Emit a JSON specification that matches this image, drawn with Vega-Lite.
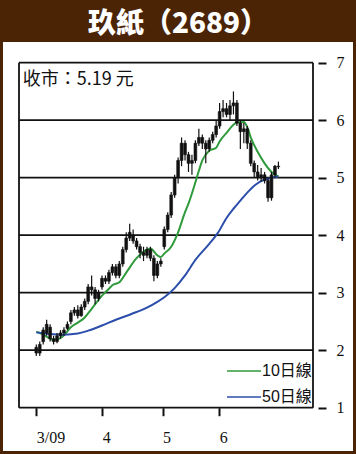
{
  "$schema": "https://vega.github.io/schema/vega-lite/v6.json",
  "width": 350,
  "height": 409,
  "autosize": {"type": "none"},
  "padding": {"left": 3, "right": 3, "top": 42, "bottom": 3},
  "background": "#4b2406",
  "title": {"text": "玖紙（2689）", "color": "white", "font": "Noto Sans CJK TC", "fontSize": 28, "fontWeight": 900, "anchor": "middle", "frame": "group", "offset": 3},
  "config": {"view": {"fill": "white", "stroke": null}},
  "datasets": {
    "levels": [{"lv": 1}, {"lv": 2}, {"lv": 3}, {"lv": 4}, {"lv": 5}, {"lv": 6}, {"lv": 7}],
    "edges": [{"e": -5}, {"e": 80}],
    "note": [{"t": "收市：5.19 元"}],
    "ma": [
      {"d": 0, "s": "10日線", "v": 2.32}, {"d": 2, "s": "10日線", "v": 2.27}, {"d": 4, "s": "10日線", "v": 2.2}, {"d": 5, "s": "10日線", "v": 2.18},
      {"d": 7, "s": "10日線", "v": 2.21}, {"d": 8, "s": "10日線", "v": 2.26}, {"d": 10, "s": "10日線", "v": 2.4}, {"d": 12, "s": "10日線", "v": 2.48},
      {"d": 14, "s": "10日線", "v": 2.57}, {"d": 16, "s": "10日線", "v": 2.72}, {"d": 19, "s": "10日線", "v": 2.95}, {"d": 21, "s": "10日線", "v": 3.07},
      {"d": 22, "s": "10日線", "v": 3.13}, {"d": 24, "s": "10日線", "v": 3.18}, {"d": 26, "s": "10日線", "v": 3.35}, {"d": 29, "s": "10日線", "v": 3.6},
      {"d": 32, "s": "10日線", "v": 3.75}, {"d": 33, "s": "10日線", "v": 3.77}, {"d": 35, "s": "10日線", "v": 3.65}, {"d": 36, "s": "10日線", "v": 3.62},
      {"d": 37, "s": "10日線", "v": 3.68}, {"d": 39, "s": "10日線", "v": 3.8}, {"d": 41, "s": "10日線", "v": 4.05}, {"d": 43, "s": "10日線", "v": 4.4},
      {"d": 44, "s": "10日線", "v": 4.55}, {"d": 46, "s": "10日線", "v": 4.92}, {"d": 47, "s": "10日線", "v": 5.12}, {"d": 48, "s": "10日線", "v": 5.3},
      {"d": 50, "s": "10日線", "v": 5.47}, {"d": 52, "s": "10日線", "v": 5.52}, {"d": 53, "s": "10日線", "v": 5.63}, {"d": 55, "s": "10日線", "v": 5.78},
      {"d": 57, "s": "10日線", "v": 5.92}, {"d": 58, "s": "10日線", "v": 5.96}, {"d": 60, "s": "10日線", "v": 5.97}, {"d": 61, "s": "10日線", "v": 5.88},
      {"d": 62, "s": "10日線", "v": 5.7}, {"d": 64, "s": "10日線", "v": 5.45}, {"d": 66, "s": "10日線", "v": 5.25}, {"d": 68, "s": "10日線", "v": 5.1},
      {"d": 70, "s": "10日線", "v": 5.02},
      {"d": 0, "s": "50日線", "v": 2.31}, {"d": 4, "s": "50日線", "v": 2.28}, {"d": 8, "s": "50日線", "v": 2.27}, {"d": 12, "s": "50日線", "v": 2.29},
      {"d": 15, "s": "50日線", "v": 2.34}, {"d": 19, "s": "50日線", "v": 2.43}, {"d": 23, "s": "50日線", "v": 2.53}, {"d": 27.5, "s": "50日線", "v": 2.63},
      {"d": 32, "s": "50日線", "v": 2.74}, {"d": 35, "s": "50日線", "v": 2.84}, {"d": 37, "s": "50日線", "v": 2.92}, {"d": 40, "s": "50日線", "v": 3.08},
      {"d": 43, "s": "50日線", "v": 3.3}, {"d": 46, "s": "50日線", "v": 3.57}, {"d": 50, "s": "50日線", "v": 3.85}, {"d": 52.5, "s": "50日線", "v": 4.04},
      {"d": 55, "s": "50日線", "v": 4.3}, {"d": 57, "s": "50日線", "v": 4.46}, {"d": 59, "s": "50日線", "v": 4.6}, {"d": 61, "s": "50日線", "v": 4.74},
      {"d": 63, "s": "50日線", "v": 4.86}, {"d": 65, "s": "50日線", "v": 4.94}, {"d": 68, "s": "50日線", "v": 5.0}, {"d": 70, "s": "50日線", "v": 5.02}
    ],
    "k": [
      {"d": 0, "o": 2.05, "c": 1.95, "h": 2.1, "l": 1.9},
      {"d": 1, "o": 1.95, "c": 2.1, "h": 2.15, "l": 1.9},
      {"d": 2, "o": 2.15, "c": 2.35, "h": 2.4, "l": 2.1},
      {"d": 3, "o": 2.3, "c": 2.45, "h": 2.53, "l": 2.25},
      {"d": 4, "o": 2.4, "c": 2.2, "h": 2.45, "l": 2.15},
      {"d": 5, "o": 2.2, "c": 2.15, "h": 2.25, "l": 2.1},
      {"d": 6, "o": 2.15, "c": 2.25, "h": 2.3, "l": 2.12},
      {"d": 7, "o": 2.25, "c": 2.3, "h": 2.35, "l": 2.2},
      {"d": 8, "o": 2.3, "c": 2.35, "h": 2.4, "l": 2.25},
      {"d": 9, "o": 2.38, "c": 2.45, "h": 2.5, "l": 2.35},
      {"d": 10, "o": 2.5, "c": 2.65, "h": 2.7, "l": 2.45},
      {"d": 11, "o": 2.65, "c": 2.7, "h": 2.75, "l": 2.6},
      {"d": 12, "o": 2.7, "c": 2.6, "h": 2.78, "l": 2.55},
      {"d": 13, "o": 2.6, "c": 2.75, "h": 2.8, "l": 2.58},
      {"d": 14, "o": 2.75, "c": 2.85, "h": 2.9, "l": 2.7},
      {"d": 15, "o": 2.85, "c": 3.1, "h": 3.15, "l": 2.8},
      {"d": 16, "o": 3.1, "c": 3.05, "h": 3.3, "l": 2.95},
      {"d": 17, "o": 3.05, "c": 2.9, "h": 3.1, "l": 2.8},
      {"d": 18, "o": 2.9, "c": 3.0, "h": 3.05, "l": 2.85},
      {"d": 19, "o": 3.1, "c": 3.25, "h": 3.3, "l": 3.05},
      {"d": 20, "o": 3.25, "c": 3.2, "h": 3.3, "l": 3.15},
      {"d": 21, "o": 3.2, "c": 3.35, "h": 3.4, "l": 3.15},
      {"d": 22, "o": 3.35, "c": 3.45, "h": 3.5, "l": 3.3},
      {"d": 23, "o": 3.45, "c": 3.3, "h": 3.5, "l": 3.25},
      {"d": 24, "o": 3.3, "c": 3.5, "h": 3.55, "l": 3.25},
      {"d": 25, "o": 3.5, "c": 3.75, "h": 3.8, "l": 3.45},
      {"d": 26, "o": 3.75, "c": 3.95, "h": 4.05, "l": 3.7},
      {"d": 27, "o": 3.95, "c": 4.05, "h": 4.2, "l": 3.9},
      {"d": 28, "o": 4.0, "c": 3.9, "h": 4.1, "l": 3.85},
      {"d": 29, "o": 3.9, "c": 3.8, "h": 3.95, "l": 3.75},
      {"d": 30, "o": 3.8, "c": 3.7, "h": 3.85, "l": 3.6},
      {"d": 31, "o": 3.7, "c": 3.65, "h": 3.8, "l": 3.55},
      {"d": 32, "o": 3.65, "c": 3.75, "h": 3.8, "l": 3.6},
      {"d": 33, "o": 3.75, "c": 3.6, "h": 3.8, "l": 3.55},
      {"d": 34, "o": 3.6, "c": 3.3, "h": 3.65, "l": 3.2},
      {"d": 35, "o": 3.3, "c": 3.5, "h": 3.55, "l": 3.25},
      {"d": 36, "o": 3.5, "c": 3.55, "h": 3.6, "l": 3.45},
      {"d": 37, "o": 3.8, "c": 4.1, "h": 4.15, "l": 3.75},
      {"d": 38, "o": 4.1, "c": 4.35, "h": 4.4, "l": 4.05},
      {"d": 39, "o": 4.35, "c": 4.7, "h": 4.75, "l": 4.3},
      {"d": 40, "o": 4.7, "c": 5.0, "h": 5.05, "l": 4.65},
      {"d": 41, "o": 5.0, "c": 5.3, "h": 5.35, "l": 4.9},
      {"d": 42, "o": 5.3, "c": 5.6, "h": 5.7, "l": 5.2},
      {"d": 43, "o": 5.6, "c": 5.4, "h": 5.65, "l": 5.3},
      {"d": 44, "o": 5.4, "c": 5.25, "h": 5.45, "l": 5.1},
      {"d": 45, "o": 5.25, "c": 5.3, "h": 5.4, "l": 5.05},
      {"d": 46, "o": 5.3, "c": 5.6, "h": 5.65, "l": 5.25},
      {"d": 47, "o": 5.6, "c": 5.7, "h": 5.85, "l": 5.55},
      {"d": 48, "o": 5.7, "c": 5.6, "h": 5.75, "l": 5.5},
      {"d": 49, "o": 5.6, "c": 5.5, "h": 5.65, "l": 5.25},
      {"d": 50, "o": 5.5, "c": 5.65, "h": 5.7, "l": 5.45},
      {"d": 51, "o": 5.65, "c": 5.75, "h": 5.8, "l": 5.6},
      {"d": 52, "o": 5.75, "c": 5.9, "h": 6.0, "l": 5.7},
      {"d": 53, "o": 5.9, "c": 6.15, "h": 6.3, "l": 5.85},
      {"d": 54, "o": 6.15, "c": 6.2, "h": 6.35, "l": 6.05},
      {"d": 55, "o": 6.2, "c": 6.1, "h": 6.3, "l": 6.05},
      {"d": 56, "o": 6.1, "c": 6.25, "h": 6.35, "l": 6.0},
      {"d": 57, "o": 6.25, "c": 6.3, "h": 6.5, "l": 6.1},
      {"d": 58, "o": 6.3, "c": 5.95, "h": 6.35, "l": 5.9},
      {"d": 59, "o": 5.95, "c": 5.8, "h": 6.0, "l": 5.5},
      {"d": 60, "o": 5.8, "c": 5.85, "h": 5.95, "l": 5.6},
      {"d": 61, "o": 5.85, "c": 5.6, "h": 5.9, "l": 5.5},
      {"d": 62, "o": 5.6, "c": 5.25, "h": 5.65, "l": 5.2},
      {"d": 63, "o": 5.25, "c": 5.1, "h": 5.3, "l": 5.0},
      {"d": 64, "o": 5.1, "c": 5.0, "h": 5.22, "l": 4.95},
      {"d": 65, "o": 5.0, "c": 5.05, "h": 5.17, "l": 4.93},
      {"d": 66, "o": 5.05, "c": 4.95, "h": 5.1, "l": 4.9},
      {"d": 67, "o": 4.95, "c": 4.65, "h": 5.0, "l": 4.58},
      {"d": 68, "o": 4.65, "c": 5.05, "h": 5.1, "l": 4.6},
      {"d": 69, "o": 5.05, "c": 5.2, "h": 5.22, "l": 5.0},
      {"d": 70, "o": 5.2, "c": 5.19, "h": 5.28, "l": 5.15}
    ]
  },
  "layer": [
    {
      "data": {"name": "levels"},
      "mark": {"type": "rule", "color": "#111", "strokeWidth": 1.8},
      "encoding": {
        "y": {
          "field": "lv", "type": "quantitative", "scale": {"domain": [1, 7], "range": [365.7, 20.7]},
          "axis": {
            "orient": "right", "offset": -35, "title": null, "values": [1, 2, 3, 4, 5, 6, 7], "format": "d",
            "domain": false, "grid": false, "ticks": true, "tickSize": 8, "tickWidth": 2, "tickColor": "#111",
            "labelFont": "Liberation Serif", "labelFontSize": 16, "labelColor": "#111", "labelPadding": 10,
            "labelFlush": false, "labelOverlap": false, "labelBound": false
          }
        },
        "x": {
          "datum": -5, "type": "quantitative", "scale": {"domain": [-5, 80], "range": [11, 315]},
          "axis": {
            "orient": "bottom", "offset": -43.3, "title": null, "values": [0, 19.05, 36.5, 52.9],
            "domain": false, "grid": false, "ticks": true, "tickSize": 8, "tickWidth": 2, "tickColor": "#111",
            "labelFont": "Liberation Serif", "labelFontSize": 16, "labelColor": "#111", "labelAlign": "left",
            "labelPadding": 14, "labelFlush": false, "labelOverlap": false, "labelBound": false,
            "labelExpr": "datum.value < 1 ? '3/09' : datum.value < 20 ? '4' : datum.value < 40 ? '5' : '6'"
          }
        },
        "x2": {"datum": 80}
      }
    },
    {
      "data": {"name": "edges"},
      "mark": {"type": "rule", "color": "#111", "strokeWidth": 1.8},
      "encoding": {
        "x": {"field": "e", "type": "quantitative", "scale": {"domain": [-5, 80], "range": [11, 315]}, "axis": {"title": null}},
        "y": {"datum": 1, "type": "quantitative", "scale": {"domain": [1, 7], "range": [365.7, 20.7]}, "axis": {"title": null}},
        "y2": {"datum": 7}
      }
    },
    {
      "data": {"name": "ma"},
      "mark": {"type": "line", "strokeWidth": 2, "interpolate": "monotone"},
      "encoding": {
        "x": {"field": "d", "type": "quantitative", "scale": {"domain": [-5, 80], "range": [11, 315]}, "axis": {"title": null}},
        "y": {"field": "v", "type": "quantitative", "scale": {"domain": [1, 7], "range": [365.7, 20.7]}, "axis": {"title": null}},
        "color": {
          "field": "s", "type": "nominal",
          "scale": {"domain": ["10日線", "50日線"], "range": ["#2f9a3c", "#2b4eaa"]},
          "legend": {
            "orient": "none", "legendX": 223, "legendY": 311, "title": null, "padding": 0,
            "symbolType": "stroke", "symbolSize": 1156, "symbolStrokeWidth": 1.5,
            "labelFontSize": 16, "labelFont": "Liberation Sans, Noto Sans CJK TC", "labelColor": "#111",
            "labelOffset": 0, "rowPadding": -2
          }
        }
      }
    },
    {
      "data": {"name": "k"},
      "mark": {"type": "rule", "color": "#111", "strokeWidth": 1.2},
      "encoding": {
        "x": {"field": "d", "type": "quantitative", "scale": {"domain": [-5, 80], "range": [11, 315]}, "axis": {"title": null}},
        "y": {"field": "l", "type": "quantitative", "scale": {"domain": [1, 7], "range": [365.7, 20.7]}, "axis": {"title": null}},
        "y2": {"field": "h"}
      }
    },
    {
      "data": {"name": "k"},
      "mark": {"type": "bar", "size": 2.8, "color": "#111", "stroke": "#111", "strokeWidth": 0.6},
      "encoding": {
        "x": {"field": "d", "type": "quantitative", "scale": {"domain": [-5, 80], "range": [11, 315]}, "axis": {"title": null}},
        "y": {"field": "o", "type": "quantitative", "scale": {"domain": [1, 7], "range": [365.7, 20.7]}, "axis": {"title": null}},
        "y2": {"field": "c"}
      }
    },
    {
      "data": {"name": "note"},
      "mark": {"type": "text", "align": "left", "baseline": "middle", "font": "Noto Sans CJK TC", "fontSize": 18, "color": "#111"},
      "encoding": {
        "x": {"datum": -3.9, "type": "quantitative", "scale": {"domain": [-5, 80], "range": [11, 315]}, "axis": {"title": null}},
        "y": {"datum": 6.7, "type": "quantitative", "scale": {"domain": [1, 7], "range": [365.7, 20.7]}, "axis": {"title": null}},
        "text": {"field": "t"}
      }
    }
  ]
}
